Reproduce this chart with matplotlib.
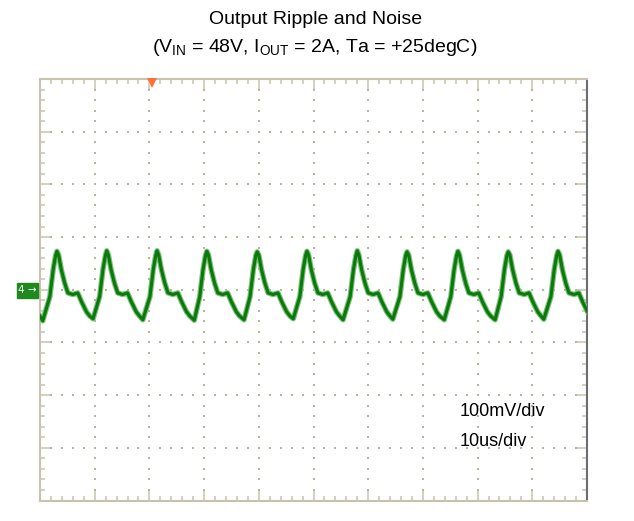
import numpy as np
import matplotlib.pyplot as plt
from matplotlib.patches import Rectangle

plt.rcParams['font.family'] = ['Liberation Sans', 'DejaVu Sans']
plt.rcParams['mathtext.default'] = 'regular'

# scope trace (time in us, level in mV, 0 = channel 4 ground)
start_t, start_mv = 0.0, -50
trough_t = [0.5, 9.7, 18.8, 28.2, 37.3, 46.3, 55.4, 64.5, 73.9, 83.2, 92.1]
trough_mv = [-59, -55, -57, -58, -57, -55, -57, -56, -57, -57, -56]
peak_t = [3.1, 12.2, 21.4, 30.5, 39.7, 48.8, 58.0, 67.1, 76.4, 85.6, 94.7]
peak_mv = [73, 74, 74, 73, 72, 73, 74, 72, 73, 72, 73]
# shape of the rising edge before each peak (offset from peak in us, level in mV)
rise_dt = [-1.3, -0.7, -0.25]
rise_mv = [-13, 38, 65]
# shape of the falling edge after each peak
shoulder_dt = [0.3, 0.8, 1.4, 2.0, 2.9, 3.8, 4.5, 5.4, 6.0]
shoulder_mv = [66, 38, 13, -6, -9, -6, -23, -42, -50]

title1 = 'Output Ripple and Noise'
title2 = '(V$_{IN}$ = 48V, I$_{OUT}$ = 2A, Ta = +25degC)'
scale_v = '100mV/div'
scale_t = '10us/div'

# build the polyline
pts = [(start_t, start_mv)]
for i in range(len(peak_t)):
    pts.append((trough_t[i], trough_mv[i]))
    for dt, mv in zip(rise_dt, rise_mv):
        pts.append((peak_t[i] + dt, mv))
    pts.append((peak_t[i], peak_mv[i]))
    for dt, mv in zip(shoulder_dt, shoulder_mv):
        t = peak_t[i] + dt
        if i + 1 < len(trough_t) and t >= trough_t[i + 1]:
            break
        pts.append((t, mv))
pts.sort()
tt = [p[0] for p in pts]
vv = [p[1] for p in pts]

fig = plt.figure(figsize=(6.34, 5.21), dpi=100)
ax = fig.add_axes([0.0631, 0.0393, 0.8628, 0.8091])
ax.set_xlim(0, 100)
ax.set_ylim(-400, 400)

frame = '#c9c3ad'
dotc = '#b9b4a2'

# dotted graticule
gx = np.arange(0, 100.01, 2)
gy = np.arange(-400, 400.1, 20)
for y in range(-300, 301, 100):
    ax.plot(gx, np.full(len(gx), y), ls='none', marker='s', ms=1.5, mew=0, color=dotc)
for x in range(10, 91, 10):
    ax.plot(np.full(len(gy), x), gy, ls='none', marker='s', ms=1.5, mew=0, color=dotc)

ax.plot(tt, vv, color='#7cc27c', lw=3.9, solid_joinstyle='round', zorder=3)
ax.plot(tt, vv, color='#0b7a0b', lw=2.3, solid_joinstyle='round', zorder=4)

ax.set_xticks(np.arange(0, 101, 10))
ax.set_xticks(np.arange(0, 101, 2), minor=True)
ax.set_yticks(np.arange(-400, 401, 100))
ax.set_yticks(np.arange(-400, 401, 20), minor=True)
ax.tick_params(which='both', direction='in', top=True, right=True,
               labelbottom=False, labelleft=False, color=frame, width=1.1)
ax.tick_params(which='major', length=8.5)
ax.tick_params(which='minor', length=3.3)
for s in ax.spines.values():
    s.set_color(frame)
    s.set_linewidth(1.5)
ax.spines['right'].set_color('#6a6e73')

# channel 4 ground marker and trigger marker
ax.add_patch(Rectangle((-0.042, -15), 0.038, 28, transform=ax.get_yaxis_transform(),
                       clip_on=False, color='#1e8a1e', zorder=5))
ax.text(-0.023, -1, '4 →', transform=ax.get_yaxis_transform(), ha='center', va='center',
        color='white', fontsize=7.5, family=['DejaVu Sans'], zorder=6)
ax.plot([20.5], [393], marker='v', ms=7, mew=0, color='#ff7033', clip_on=False, zorder=6)

ax.text(0.768, 0.2106, scale_v, transform=ax.transAxes, ha='left', va='center', fontsize=13)
ax.text(0.768, 0.1406, scale_t, transform=ax.transAxes, ha='left', va='center', fontsize=13)

fig.text(0.498, 0.963, title1, ha='center', va='center', fontsize=14)
fig.text(0.497, 0.908, title2, ha='center', va='center', fontsize=14)

fig.savefig('out.png', dpi=100)
